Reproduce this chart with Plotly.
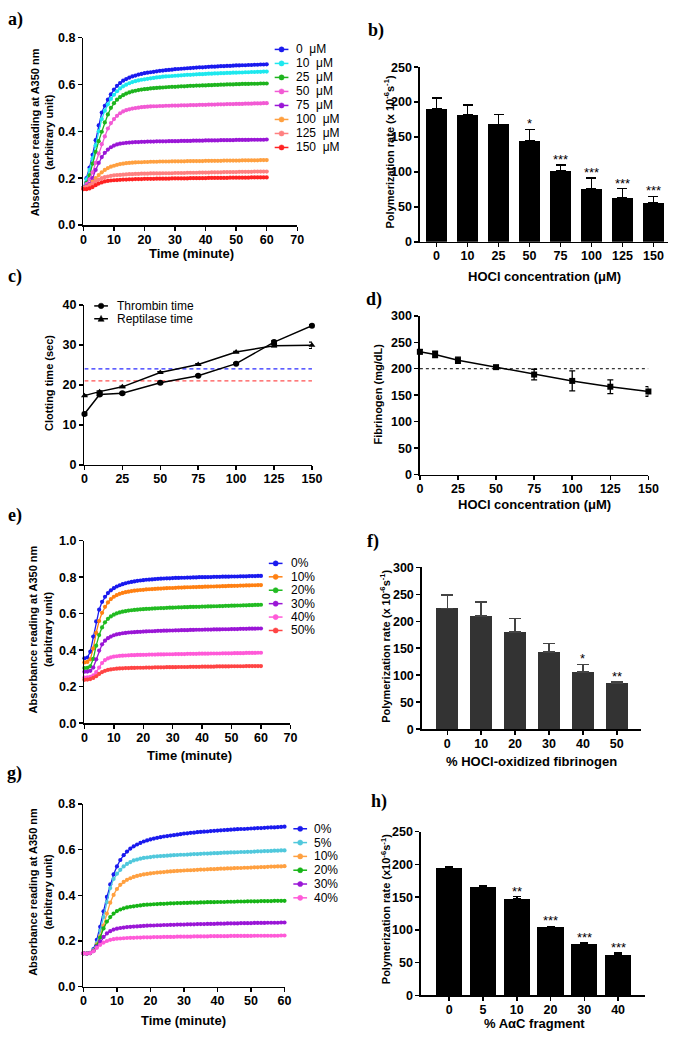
import plotly.graph_objects as go

W, H = 679, 1039
def px(x): return x / W
def py(y): return 1 - y / H

FONT = "Liberation Sans, Arial, sans-serif"
SERIF = "Liberation Serif, Times New Roman, serif"

TIME = list(range(61))

# ---------------- panel a: HOCl concentrations ----------------
A_LABELS = ["0", "10", "25", "50", "75", "100", "125", "150"]
A_COLORS = ["#1a1aee", "#1ee8ee", "#1eb41e", "#f25ad4", "#9a16d6", "#ffa040", "#ff8080", "#ff2222"]
A_0 = [0.160, 0.200, 0.245, 0.300, 0.362, 0.425, 0.480, 0.509, 0.535, 0.558, 0.578, 0.594, 0.606, 0.616, 0.623, 0.629, 0.634, 0.638, 0.642, 0.645, 0.648, 0.650, 0.652, 0.654, 0.656, 0.658, 0.659, 0.661, 0.662, 0.663, 0.665, 0.666, 0.667, 0.668, 0.669, 0.670, 0.671, 0.672, 0.673, 0.673, 0.674, 0.675, 0.676, 0.676, 0.677, 0.678, 0.678, 0.679, 0.679, 0.680, 0.681, 0.681, 0.682, 0.682, 0.683, 0.683, 0.684, 0.684, 0.685, 0.685, 0.686]
A_10 = [0.160, 0.195, 0.235, 0.285, 0.340, 0.400, 0.452, 0.488, 0.515, 0.538, 0.556, 0.571, 0.583, 0.592, 0.599, 0.605, 0.610, 0.614, 0.617, 0.620, 0.622, 0.624, 0.626, 0.628, 0.630, 0.631, 0.633, 0.634, 0.635, 0.636, 0.637, 0.638, 0.639, 0.640, 0.641, 0.641, 0.642, 0.643, 0.644, 0.644, 0.645, 0.646, 0.646, 0.647, 0.647, 0.648, 0.648, 0.649, 0.649, 0.650, 0.650, 0.651, 0.651, 0.652, 0.652, 0.653, 0.653, 0.654, 0.654, 0.655, 0.655]
A_25 = [0.158, 0.180, 0.212, 0.262, 0.312, 0.358, 0.398, 0.438, 0.472, 0.500, 0.520, 0.535, 0.546, 0.554, 0.561, 0.566, 0.570, 0.573, 0.576, 0.578, 0.580, 0.581, 0.583, 0.584, 0.585, 0.586, 0.587, 0.588, 0.589, 0.590, 0.590, 0.591, 0.592, 0.592, 0.593, 0.594, 0.594, 0.595, 0.595, 0.596, 0.596, 0.597, 0.597, 0.598, 0.598, 0.599, 0.599, 0.600, 0.600, 0.600, 0.601, 0.601, 0.602, 0.602, 0.602, 0.603, 0.603, 0.603, 0.604, 0.604, 0.604]
A_50 = [0.160, 0.175, 0.195, 0.225, 0.265, 0.305, 0.345, 0.378, 0.412, 0.435, 0.452, 0.466, 0.477, 0.485, 0.490, 0.494, 0.497, 0.499, 0.501, 0.503, 0.504, 0.505, 0.506, 0.507, 0.507, 0.508, 0.508, 0.509, 0.509, 0.510, 0.510, 0.510, 0.511, 0.511, 0.511, 0.512, 0.512, 0.512, 0.513, 0.513, 0.513, 0.514, 0.514, 0.514, 0.515, 0.515, 0.515, 0.516, 0.516, 0.516, 0.517, 0.517, 0.517, 0.518, 0.518, 0.518, 0.519, 0.519, 0.519, 0.520, 0.520]
A_75 = [0.160, 0.165, 0.175, 0.200, 0.235, 0.265, 0.290, 0.308, 0.322, 0.332, 0.339, 0.344, 0.347, 0.349, 0.351, 0.352, 0.353, 0.354, 0.354, 0.355, 0.355, 0.356, 0.356, 0.356, 0.357, 0.357, 0.357, 0.357, 0.358, 0.358, 0.358, 0.358, 0.359, 0.359, 0.359, 0.359, 0.360, 0.360, 0.360, 0.360, 0.361, 0.361, 0.361, 0.361, 0.361, 0.362, 0.362, 0.362, 0.362, 0.362, 0.363, 0.363, 0.363, 0.363, 0.363, 0.364, 0.364, 0.364, 0.364, 0.364, 0.365]
A_100 = [0.160, 0.163, 0.170, 0.185, 0.200, 0.213, 0.225, 0.235, 0.243, 0.249, 0.253, 0.257, 0.260, 0.262, 0.264, 0.265, 0.266, 0.267, 0.268, 0.268, 0.269, 0.269, 0.270, 0.270, 0.270, 0.271, 0.271, 0.271, 0.271, 0.272, 0.272, 0.272, 0.272, 0.272, 0.273, 0.273, 0.273, 0.273, 0.273, 0.273, 0.274, 0.274, 0.274, 0.274, 0.274, 0.274, 0.275, 0.275, 0.275, 0.275, 0.275, 0.275, 0.276, 0.276, 0.276, 0.276, 0.276, 0.276, 0.277, 0.277, 0.277]
A_125 = [0.158, 0.162, 0.168, 0.178, 0.187, 0.194, 0.200, 0.204, 0.207, 0.210, 0.212, 0.213, 0.214, 0.215, 0.216, 0.217, 0.217, 0.218, 0.218, 0.219, 0.219, 0.219, 0.220, 0.220, 0.220, 0.220, 0.221, 0.221, 0.221, 0.221, 0.222, 0.222, 0.222, 0.222, 0.223, 0.223, 0.223, 0.223, 0.224, 0.224, 0.224, 0.224, 0.225, 0.225, 0.225, 0.225, 0.226, 0.226, 0.226, 0.226, 0.226, 0.227, 0.227, 0.227, 0.227, 0.227, 0.228, 0.228, 0.228, 0.228, 0.228]
A_150 = [0.153, 0.153, 0.156, 0.162, 0.170, 0.177, 0.182, 0.186, 0.188, 0.190, 0.191, 0.192, 0.193, 0.194, 0.194, 0.195, 0.195, 0.196, 0.196, 0.196, 0.197, 0.197, 0.197, 0.197, 0.198, 0.198, 0.198, 0.198, 0.198, 0.199, 0.199, 0.199, 0.199, 0.199, 0.199, 0.200, 0.200, 0.200, 0.200, 0.200, 0.200, 0.201, 0.201, 0.201, 0.201, 0.201, 0.201, 0.201, 0.202, 0.202, 0.202, 0.202, 0.202, 0.202, 0.202, 0.203, 0.203, 0.203, 0.203, 0.203, 0.203]
A_SERIES = [A_0, A_10, A_25, A_50, A_75, A_100, A_125, A_150]

# ---------------- panel b ----------------
B_CATS = ["0", "10", "25", "50", "75", "100", "125", "150"]
B_VALS = [190, 182, 168, 144, 101, 76, 63, 56]
B_ERR = [16, 14, 14, 17, 9, 15, 13, 9]
B_STARS = ["", "", "", "*", "***", "***", "***", "***"]

# ---------------- panel c ----------------
C_X = [0, 10, 25, 50, 75, 100, 125, 150]
C_THROMBIN = [12.7, 17.6, 17.9, 20.5, 22.3, 25.3, 30.7, 34.8]
C_THROMBIN_ERR = [0.3, 0.3, 0.2, 0.2, 0.2, 0.2, 0.3, 0.3]
C_REPTILASE = [17.3, 18.3, 19.5, 23.1, 25.1, 28.2, 29.8, 29.9]
C_REPTILASE_ERR = [0.2, 0.2, 0.2, 0.2, 0.2, 0.2, 0.3, 0.8]
C_REF_BLUE = 24
C_REF_RED = 21

# ---------------- panel d ----------------
D_X = [0, 10, 25, 50, 75, 100, 125, 150]
D_VALS = [232, 227, 216, 203, 189, 177, 166, 157]
D_ERR = [4, 6, 6, 2, 10, 19, 13, 9]
D_REF = 200

# ---------------- panel e ----------------
E_LABELS = ["0%", "10%", "20%", "30%", "40%", "50%"]
E_COLORS = ["#1a1aee", "#ff8012", "#22bb22", "#9a16d6", "#ff5ad8", "#ff4444"]
E_0 = [0.356, 0.360, 0.392, 0.475, 0.558, 0.622, 0.665, 0.693, 0.713, 0.728, 0.740, 0.749, 0.756, 0.762, 0.767, 0.771, 0.774, 0.777, 0.780, 0.782, 0.784, 0.786, 0.787, 0.788, 0.790, 0.791, 0.792, 0.793, 0.794, 0.794, 0.795, 0.796, 0.796, 0.797, 0.797, 0.798, 0.798, 0.799, 0.799, 0.800, 0.800, 0.800, 0.801, 0.801, 0.802, 0.802, 0.802, 0.803, 0.803, 0.803, 0.804, 0.804, 0.804, 0.805, 0.805, 0.805, 0.806, 0.806, 0.806, 0.807, 0.807]
E_10 = [0.333, 0.336, 0.350, 0.410, 0.495, 0.560, 0.605, 0.638, 0.662, 0.680, 0.693, 0.702, 0.709, 0.714, 0.718, 0.721, 0.724, 0.726, 0.728, 0.730, 0.731, 0.733, 0.734, 0.735, 0.736, 0.737, 0.738, 0.739, 0.740, 0.741, 0.741, 0.742, 0.743, 0.743, 0.744, 0.745, 0.745, 0.746, 0.746, 0.747, 0.747, 0.748, 0.748, 0.749, 0.749, 0.750, 0.750, 0.751, 0.751, 0.752, 0.752, 0.753, 0.753, 0.754, 0.754, 0.755, 0.755, 0.756, 0.756, 0.757, 0.757]
E_20 = [0.302, 0.303, 0.312, 0.352, 0.425, 0.483, 0.525, 0.553, 0.572, 0.585, 0.595, 0.602, 0.607, 0.611, 0.614, 0.617, 0.619, 0.621, 0.622, 0.624, 0.625, 0.626, 0.627, 0.628, 0.629, 0.630, 0.631, 0.631, 0.632, 0.633, 0.633, 0.634, 0.635, 0.635, 0.636, 0.636, 0.637, 0.637, 0.638, 0.638, 0.639, 0.639, 0.640, 0.640, 0.641, 0.641, 0.642, 0.642, 0.643, 0.643, 0.644, 0.644, 0.645, 0.645, 0.646, 0.646, 0.647, 0.647, 0.648, 0.648, 0.649]
E_30 = [0.282, 0.283, 0.287, 0.305, 0.350, 0.398, 0.432, 0.452, 0.466, 0.475, 0.482, 0.487, 0.490, 0.493, 0.495, 0.497, 0.498, 0.499, 0.500, 0.501, 0.502, 0.503, 0.504, 0.504, 0.505, 0.506, 0.506, 0.507, 0.507, 0.508, 0.508, 0.509, 0.509, 0.510, 0.510, 0.510, 0.511, 0.511, 0.512, 0.512, 0.512, 0.513, 0.513, 0.513, 0.514, 0.514, 0.514, 0.515, 0.515, 0.515, 0.516, 0.516, 0.516, 0.517, 0.517, 0.517, 0.518, 0.518, 0.518, 0.519, 0.519]
E_40 = [0.250, 0.251, 0.254, 0.262, 0.280, 0.305, 0.330, 0.346, 0.355, 0.361, 0.365, 0.367, 0.369, 0.370, 0.371, 0.372, 0.373, 0.373, 0.374, 0.374, 0.375, 0.375, 0.376, 0.376, 0.376, 0.377, 0.377, 0.377, 0.378, 0.378, 0.378, 0.379, 0.379, 0.379, 0.379, 0.380, 0.380, 0.380, 0.380, 0.381, 0.381, 0.381, 0.381, 0.382, 0.382, 0.382, 0.382, 0.383, 0.383, 0.383, 0.383, 0.384, 0.384, 0.384, 0.384, 0.385, 0.385, 0.385, 0.385, 0.386, 0.386]
E_50 = [0.238, 0.239, 0.242, 0.248, 0.258, 0.270, 0.280, 0.287, 0.292, 0.295, 0.297, 0.299, 0.300, 0.301, 0.302, 0.302, 0.303, 0.303, 0.304, 0.304, 0.304, 0.305, 0.305, 0.305, 0.306, 0.306, 0.306, 0.306, 0.307, 0.307, 0.307, 0.307, 0.308, 0.308, 0.308, 0.308, 0.309, 0.309, 0.309, 0.309, 0.310, 0.310, 0.310, 0.310, 0.310, 0.311, 0.311, 0.311, 0.311, 0.311, 0.312, 0.312, 0.312, 0.312, 0.312, 0.313, 0.313, 0.313, 0.313, 0.313, 0.313]
E_SERIES = [E_0, E_10, E_20, E_30, E_40, E_50]

# ---------------- panel f ----------------
F_CATS = ["0", "10", "20", "30", "40", "50"]
F_VALS = [224, 210, 180, 143, 106, 86]
F_ERR = [25, 26, 25, 16, 14, 2]
F_STARS = ["", "", "", "", "*", "**"]

# ---------------- panel g ----------------
G_LABELS = ["0%", "5%", "10%", "20%", "30%", "40%"]
G_COLORS = ["#1a1aee", "#50c8dc", "#ffa040", "#16b416", "#9a16d6", "#ff5ad8"]
G_0 = [0.146, 0.145, 0.148, 0.165, 0.205, 0.262, 0.330, 0.393, 0.448, 0.492, 0.527, 0.555, 0.576, 0.592, 0.605, 0.615, 0.623, 0.630, 0.636, 0.641, 0.645, 0.649, 0.652, 0.655, 0.658, 0.660, 0.662, 0.664, 0.666, 0.668, 0.671, 0.672, 0.674, 0.675, 0.677, 0.678, 0.679, 0.680, 0.682, 0.683, 0.684, 0.685, 0.686, 0.687, 0.688, 0.689, 0.690, 0.691, 0.691, 0.692, 0.693, 0.694, 0.695, 0.695, 0.696, 0.697, 0.698, 0.698, 0.699, 0.700, 0.701]
G_5 = [0.146, 0.145, 0.147, 0.160, 0.192, 0.245, 0.305, 0.370, 0.432, 0.472, 0.495, 0.512, 0.527, 0.538, 0.546, 0.553, 0.557, 0.561, 0.564, 0.566, 0.568, 0.570, 0.571, 0.572, 0.573, 0.574, 0.575, 0.576, 0.577, 0.578, 0.578, 0.579, 0.580, 0.581, 0.581, 0.582, 0.583, 0.583, 0.584, 0.585, 0.585, 0.586, 0.587, 0.587, 0.588, 0.588, 0.589, 0.590, 0.590, 0.591, 0.591, 0.592, 0.593, 0.593, 0.594, 0.594, 0.595, 0.596, 0.596, 0.597, 0.597]
G_10 = [0.146, 0.145, 0.147, 0.158, 0.185, 0.220, 0.268, 0.320, 0.368, 0.402, 0.428, 0.446, 0.459, 0.468, 0.475, 0.481, 0.485, 0.489, 0.492, 0.494, 0.496, 0.498, 0.500, 0.501, 0.502, 0.504, 0.505, 0.506, 0.507, 0.508, 0.509, 0.510, 0.510, 0.511, 0.512, 0.513, 0.513, 0.514, 0.515, 0.515, 0.516, 0.517, 0.517, 0.518, 0.518, 0.519, 0.520, 0.520, 0.521, 0.521, 0.522, 0.523, 0.523, 0.524, 0.524, 0.525, 0.526, 0.526, 0.527, 0.527, 0.528]
G_20 = [0.146, 0.145, 0.147, 0.157, 0.180, 0.215, 0.255, 0.285, 0.305, 0.320, 0.331, 0.338, 0.343, 0.347, 0.350, 0.352, 0.354, 0.356, 0.358, 0.359, 0.360, 0.361, 0.362, 0.363, 0.363, 0.364, 0.365, 0.365, 0.366, 0.366, 0.367, 0.367, 0.368, 0.368, 0.368, 0.369, 0.369, 0.370, 0.370, 0.370, 0.371, 0.371, 0.371, 0.372, 0.372, 0.372, 0.373, 0.373, 0.373, 0.374, 0.374, 0.374, 0.374, 0.375, 0.375, 0.375, 0.375, 0.376, 0.376, 0.376, 0.376]
G_30 = [0.146, 0.145, 0.147, 0.156, 0.175, 0.198, 0.218, 0.233, 0.243, 0.250, 0.254, 0.257, 0.259, 0.261, 0.262, 0.263, 0.264, 0.265, 0.266, 0.267, 0.268, 0.268, 0.269, 0.269, 0.270, 0.270, 0.271, 0.271, 0.272, 0.272, 0.272, 0.273, 0.273, 0.273, 0.274, 0.274, 0.274, 0.275, 0.275, 0.275, 0.276, 0.276, 0.276, 0.277, 0.277, 0.277, 0.277, 0.278, 0.278, 0.278, 0.278, 0.279, 0.279, 0.279, 0.279, 0.280, 0.280, 0.280, 0.280, 0.281, 0.281]
G_40 = [0.146, 0.145, 0.147, 0.155, 0.170, 0.183, 0.193, 0.200, 0.205, 0.208, 0.210, 0.211, 0.212, 0.213, 0.214, 0.214, 0.215, 0.215, 0.216, 0.216, 0.216, 0.217, 0.217, 0.217, 0.218, 0.218, 0.218, 0.218, 0.219, 0.219, 0.219, 0.219, 0.219, 0.220, 0.220, 0.220, 0.220, 0.220, 0.221, 0.221, 0.221, 0.221, 0.221, 0.221, 0.222, 0.222, 0.222, 0.222, 0.222, 0.222, 0.222, 0.223, 0.223, 0.223, 0.223, 0.223, 0.223, 0.223, 0.223, 0.224, 0.224]
G_SERIES = [G_0, G_5, G_10, G_20, G_30, G_40]

# ---------------- panel h ----------------
H_CATS = ["0", "5", "10", "20", "30", "40"]
H_VALS = [195, 166, 147, 104, 78, 62]
H_ERR = [2, 1.5, 4, 1.5, 2, 3]
H_STARS = ["", "", "**", "***", "***", "***"]

fig = go.Figure()
shapes = []
annotations = []

TICKFONT = dict(family=FONT, size=12.5, color="black", weight="bold")

def axis(dom, rng, **kw):
    d = dict(domain=dom, range=rng, showline=True, linecolor="black", linewidth=1.5,
             ticks="outside", ticklen=4, tickwidth=1.5, tickcolor="black",
             showgrid=False, zeroline=False, tickfont=TICKFONT, fixedrange=True)
    d.update(kw)
    return d

layout_axes = {}
def add_axes(i, x0, x1, y0, y1, xr, yr, xkw, ykw):
    xn = "xaxis" if i == 1 else f"xaxis{i}"
    yn = "yaxis" if i == 1 else f"yaxis{i}"
    layout_axes[xn] = axis([px(x0), px(x1)], xr, anchor=f"y{'' if i == 1 else i}", **xkw)
    layout_axes[yn] = axis([py(y1), py(y0)], yr, anchor=f"x{'' if i == 1 else i}", **ykw)

def ax_ids(i):
    return ("x" if i == 1 else f"x{i}", "y" if i == 1 else f"y{i}")

def text(x, y, s, size=12, bold=True, angle=0, family=FONT, xanchor="center"):
    annotations.append(dict(x=px(x), y=py(y), xref="paper", yref="paper", text=s,
                            showarrow=False, textangle=angle, xanchor=xanchor, yanchor="middle",
                            font=dict(family=family, size=size, color="black",
                                      weight="bold" if bold else "normal")))

def absorbance_title(xc, yc):
    text(xc - 7.5, yc, "Absorbance reading at A350 nm", size=11, angle=-90)
    text(xc + 7.5, yc, "(arbitrary unit)", size=11, angle=-90)

def legend_entry(xm, y, color, label, tx, symbol="circle", half=7, r=2.6):
    shapes.append(dict(type="line", xref="paper", yref="paper", x0=px(xm - half), x1=px(xm + half),
                       y0=py(y), y1=py(y), line=dict(color=color, width=1.5)))
    if symbol == "circle":
        shapes.append(dict(type="circle", xref="paper", yref="paper", x0=px(xm - r), x1=px(xm + r),
                           y0=py(y + r), y1=py(y - r), fillcolor=color, line=dict(color=color, width=0.5)))
    else:
        path = f"M {px(xm - r - 0.5)},{py(y + r)} L {px(xm + r + 0.5)},{py(y + r)} L {px(xm)},{py(y - r - 0.8)} Z"
        shapes.append(dict(type="path", xref="paper", yref="paper", path=path, fillcolor=color,
                           line=dict(color=color, width=0.5)))
    annotations.append(dict(x=px(tx), y=py(y), xref="paper", yref="paper", text=label, showarrow=False,
                            xanchor="left", yanchor="middle",
                            font=dict(family=FONT, size=12, color="black")))

def kinetic(i, series, colors):
    xa, ya = ax_ids(i)
    for s, c in zip(series, colors):
        fig.add_trace(go.Scatter(x=TIME, y=s, mode="lines+markers", xaxis=xa, yaxis=ya,
                                 line=dict(color=c, width=1.3), marker=dict(color=c, size=4.2),
                                 cliponaxis=False, showlegend=False))

def bars(i, cats, vals, errs, stars, color, width, ecolor, capw):
    xa, ya = ax_ids(i)
    fig.add_trace(go.Bar(x=cats, y=vals, xaxis=xa, yaxis=ya, width=width, marker=dict(color=color, line=dict(width=0)),
                         error_y=dict(type="data", array=errs, arrayminus=[0] * len(errs), symmetric=False,
                                      color=ecolor, thickness=1.5, width=capw),
                         showlegend=False))
    for k, (v, e, s) in enumerate(zip(vals, errs, stars)):
        if s:
            annotations.append(dict(x=k, y=v + e, xref=xa, yref=ya, text=s, showarrow=False,
                                    xanchor="center", yanchor="bottom", yshift=-4,
                                    font=dict(family=FONT, size=13, color="black")))

XSTAND = dict(ticklabelstandoff=-2)

# ---- a ----
add_axes(1, 82, 300, 31, 221, [0, 70], [0, 0.8],
         dict(tickvals=[0, 10, 20, 30, 40, 50, 60, 70], **XSTAND),
         dict(tickvals=[0, 0.2, 0.4, 0.6, 0.8], tickformat=".1f"))
kinetic(1, A_SERIES, A_COLORS)
for k, (lab, col) in enumerate(zip(A_LABELS, A_COLORS)):
    legend_entry(284, 43 + 14.2 * k, col, f"{lab}\u00a0\u00a0μM", 297)
absorbance_title(40, 127)
text(192, 250, "Time (minute)", size=13)
text(13, 13, "a)", size=18, family=SERIF)

# ---- b ----
add_axes(2, 425, 678, 61, 238, [-0.54, 7.47], [0, 250],
         dict(type="category", **XSTAND), dict(tickvals=[0, 50, 100, 150, 200, 250]))
bars(2, B_CATS, B_VALS, B_ERR, B_STARS, "black", 0.66, "black", 5)
text(394, 147, "Polymerization rate (x 10<sup>-6</sup>s<sup>-1</sup>)", size=11, angle=-90)
text(552, 273, "HOCl concentration (μM)", size=13)
text(380, 24, "b)", size=18, family=SERIF)

# ---- c ----
add_axes(3, 83, 315, 302, 464, [0, 150], [0, 40],
         dict(tickvals=[0, 25, 50, 75, 100, 125, 150], **XSTAND), dict(tickvals=[0, 10, 20, 30, 40]))
fig.add_trace(go.Scatter(x=[C_X[0], C_X[-1]], y=[C_REF_BLUE, C_REF_BLUE], mode="lines", xaxis="x3", yaxis="y3",
                         line=dict(color="#2a2aff", width=1.3, dash="4px,3px"), showlegend=False))
fig.add_trace(go.Scatter(x=[C_X[0], C_X[-1]], y=[C_REF_RED, C_REF_RED], mode="lines", xaxis="x3", yaxis="y3",
                         line=dict(color="#ff5050", width=1.3, dash="4px,3px"), showlegend=False))
fig.add_trace(go.Scatter(x=C_X, y=C_THROMBIN, mode="lines+markers", xaxis="x3", yaxis="y3",
                         line=dict(color="black", width=1.5), marker=dict(color="black", size=6, symbol="circle"),
                         error_y=dict(type="data", array=C_THROMBIN_ERR, color="black", thickness=1.2, width=3),
                         cliponaxis=False, showlegend=False))
fig.add_trace(go.Scatter(x=C_X, y=C_REPTILASE, mode="lines+markers", xaxis="x3", yaxis="y3",
                         line=dict(color="black", width=1.5), marker=dict(color="black", size=6, symbol="triangle-up"),
                         error_y=dict(type="data", array=C_REPTILASE_ERR, color="black", thickness=1.2, width=3),
                         cliponaxis=False, showlegend=False))
legend_entry(100, 303, "black", "Thrombin time", 114, symbol="circle", half=7, r=2.8)
legend_entry(100, 316, "black", "Reptilase time", 114, symbol="triangle", half=7, r=2.6)
text(47, 381, "Clotting time (sec)", size=11, angle=-90)
text(12, 273, "c)", size=18, family=SERIF)

# ---- d ----
add_axes(4, 425, 658, 313, 474, [0, 150], [0, 300],
         dict(tickvals=[0, 25, 50, 75, 100, 125, 150], **XSTAND), dict(tickvals=[0, 50, 100, 150, 200, 250, 300]))
fig.add_trace(go.Scatter(x=[D_X[0], D_X[-1]], y=[D_REF, D_REF], mode="lines", xaxis="x4", yaxis="y4",
                         line=dict(color="black", width=1, dash="dot"), showlegend=False))
fig.add_trace(go.Scatter(x=D_X, y=D_VALS, mode="lines+markers", xaxis="x4", yaxis="y4",
                         line=dict(color="black", width=1.5), marker=dict(color="black", size=6, symbol="square"),
                         error_y=dict(type="data", array=D_ERR, color="black", thickness=1.3, width=3),
                         cliponaxis=False, showlegend=False))
text(382, 392, "Fibrinogen (mg/dL)", size=11, angle=-90)
text(542, 504, "HOCl concentration (μM)", size=13)
text(378, 297, "d)", size=18, family=SERIF)

# ---- e ----
add_axes(5, 83, 293, 541, 726, [0, 70], [0, 1.0],
         dict(tickvals=[0, 10, 20, 30, 40, 50, 60, 70], **XSTAND),
         dict(tickvals=[0, 0.2, 0.4, 0.6, 0.8, 1.0], tickformat=".1f"))
kinetic(5, E_SERIES, E_COLORS)
for k, (lab, col) in enumerate(zip(E_LABELS, E_COLORS)):
    legend_entry(278, 564 + 13.6 * k, col, lab, 292)
absorbance_title(39, 631)
text(190, 759, "Time (minute)", size=13)
text(12, 515, "e)", size=18, family=SERIF)

# ---- f ----
add_axes(6, 427, 650, 568, 732, [-0.75, 5.7], [0, 300],
         dict(type="category", **XSTAND), dict(tickvals=[0, 50, 100, 150, 200, 250, 300]))
bars(6, F_CATS, F_VALS, F_ERR, F_STARS, "#333333", 0.65, "#444444", 6)
text(390, 648, "Polymerization rate (x 10<sup>-6</sup>s<sup>-1</sup>)", size=11, angle=-90)
text(539, 765, "% HOCl-oxidized fibrinogen", size=13)
text(377, 542, "f)", size=18, family=SERIF)

# ---- g ----
add_axes(7, 82, 287, 808, 993, [0, 60], [0, 0.8],
         dict(tickvals=[0, 10, 20, 30, 40, 50, 60], **XSTAND),
         dict(tickvals=[0, 0.2, 0.4, 0.6, 0.8], tickformat=".1f"))
kinetic(7, G_SERIES, G_COLORS)
for k, (lab, col) in enumerate(zip(G_LABELS, G_COLORS)):
    legend_entry(303, 833 + 14 * k, col, lab, 315)
absorbance_title(38, 897)
text(184, 1027, "Time (minute)", size=13)
text(12, 777, "g)", size=18, family=SERIF)

# ---- h ----
add_axes(8, 426, 655, 836, 1002, [-0.84, 5.81], [0, 250],
         dict(type="category", **XSTAND), dict(tickvals=[0, 50, 100, 150, 200, 250]))
bars(8, H_CATS, H_VALS, H_ERR, H_STARS, "black", 0.78, "black", 4)
text(390, 915, "Polymerization rate (x10<sup>-6</sup>s<sup>-1</sup>)", size=11, angle=-90)
text(542, 1030, "% AαC fragment", size=13)
text(383, 805, "h)", size=18, family=SERIF)

fig.update_layout(width=W, height=H, autosize=False, margin=dict(l=0, r=0, t=0, b=0),
                  paper_bgcolor="white", plot_bgcolor="white", showlegend=False,
                  shapes=shapes, annotations=annotations, bargap=0, **layout_axes)
fig.write_html("out.html", config={"displayModeBar": False, "staticPlot": True},
               post_script="document.body.style.margin='0';document.body.style.overflow='hidden';")
